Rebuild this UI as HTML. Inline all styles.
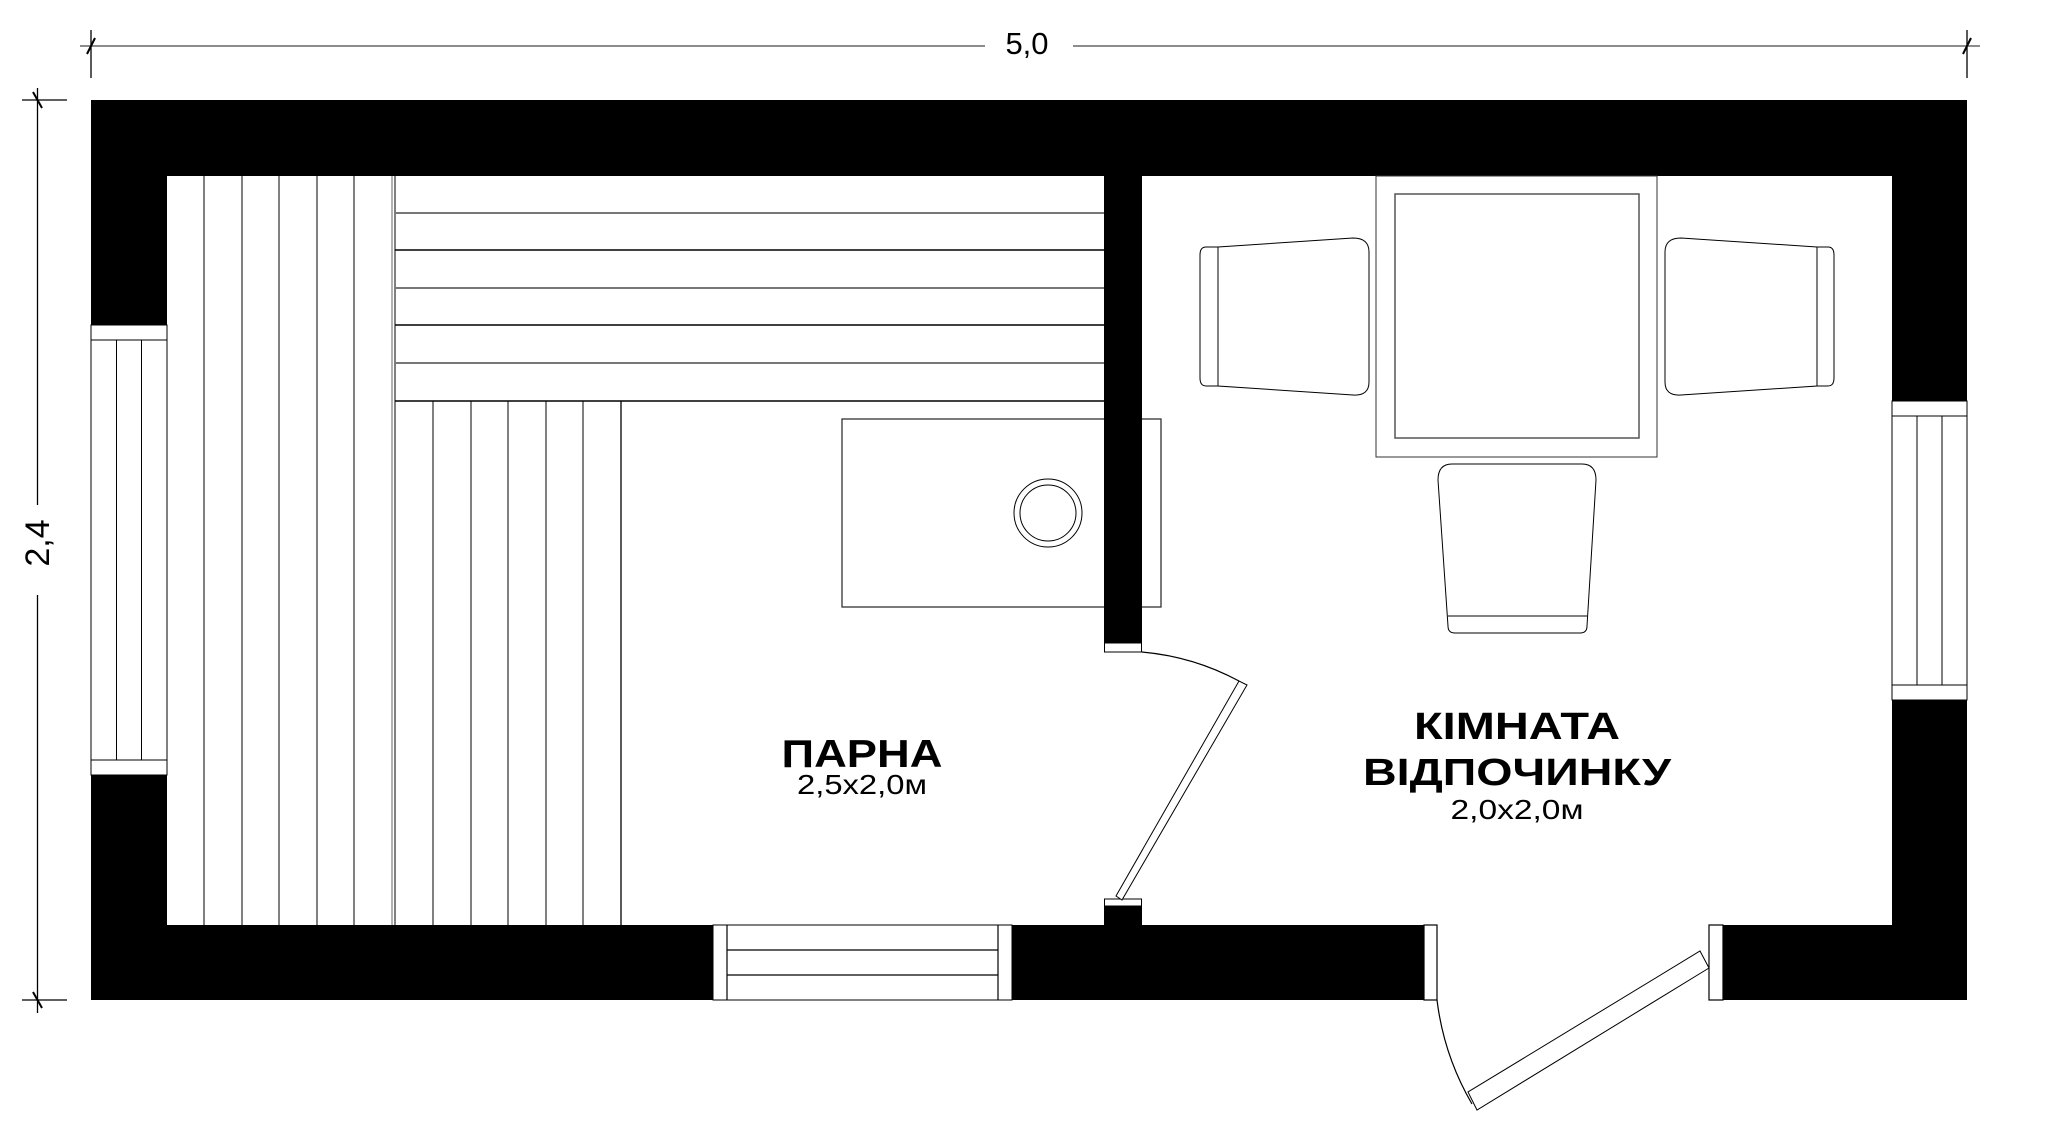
<!DOCTYPE html>
<html><head><meta charset="utf-8"><style>html,body{margin:0;padding:0;background:#fff}svg{display:block}</style></head>
<body>
<svg width="2064" height="1146" viewBox="0 0 2064 1146" xmlns="http://www.w3.org/2000/svg" font-family="Liberation Sans, sans-serif">
<rect width="2064" height="1146" fill="#fff"/>
<!-- dimensions -->
<g stroke="#000" stroke-width="1.3" fill="none">
<line x1="80" y1="46" x2="985" y2="46" stroke="#666" stroke-width="1.5"/>
<line x1="1073" y1="46" x2="1980" y2="46" stroke="#666" stroke-width="1.5"/>
<line x1="91" y1="30" x2="91" y2="78"/>
<line x1="1967" y1="30" x2="1967" y2="78"/>
<line x1="87" y1="54" x2="95" y2="38" stroke-width="2"/>
<line x1="1963" y1="54" x2="1971" y2="38" stroke-width="2"/>
<line x1="37.5" y1="88" x2="37.5" y2="505"/>
<line x1="37.5" y1="595" x2="37.5" y2="1013"/>
<line x1="22" y1="100" x2="67" y2="100"/>
<line x1="22" y1="1000" x2="67" y2="1000"/>
<line x1="33" y1="92" x2="42" y2="108" stroke-width="2"/>
<line x1="33" y1="992" x2="42" y2="1008" stroke-width="2"/>
</g>
<text x="1027" y="54" font-size="31" text-anchor="middle">5,0</text>
<text transform="translate(49,543) rotate(-90)" font-size="34" text-anchor="middle">2,4</text>

<!-- outer walls -->
<path fill="#000" fill-rule="evenodd" d="M91,100 H1967 V1000 H91 Z M167,176 H1892 V925 H167 Z"/>
<!-- left window -->
<rect x="91" y="325" width="76" height="450" fill="#fff" stroke="#000" stroke-width="1"/>
<g stroke="#000" stroke-width="1">
<line x1="91" y1="340" x2="167" y2="340"/><line x1="91" y1="760" x2="167" y2="760"/>
<line x1="116.5" y1="340" x2="116.5" y2="760"/><line x1="141.5" y1="340" x2="141.5" y2="760"/>
</g>
<!-- right window -->
<rect x="1892" y="401" width="75" height="299" fill="#fff" stroke="#000" stroke-width="1"/>
<g stroke="#000" stroke-width="1">
<line x1="1892" y1="416" x2="1967" y2="416"/><line x1="1892" y1="685" x2="1967" y2="685"/>
<line x1="1917" y1="416" x2="1917" y2="685"/><line x1="1942" y1="416" x2="1942" y2="685"/>
</g>
<!-- bottom window -->
<rect x="713" y="925" width="299" height="75" fill="#fff" stroke="#000" stroke-width="1"/>
<g stroke="#000" stroke-width="1.2">
<line x1="727" y1="925" x2="727" y2="1000"/><line x1="998" y1="925" x2="998" y2="1000"/>
<line x1="727" y1="950" x2="998" y2="950"/><line x1="727" y1="975" x2="998" y2="975"/>
</g>
<!-- entrance opening -->
<rect x="1424" y="924" width="299" height="78" fill="#fff"/>
<rect x="1424" y="925" width="13" height="75" fill="#fff" stroke="#000" stroke-width="1.2"/>
<rect x="1709" y="925" width="14" height="75" fill="#fff" stroke="#000" stroke-width="1.2"/>
<polygon points="1700,951 1709,968 1477,1110 1468,1092" fill="#fff" stroke="#000" stroke-width="1"/>
<path d="M1437,1000 A273,273 0 0 0 1472,1104" fill="none" stroke="#000" stroke-width="1.2"/>

<!-- bench boards -->
<g stroke="#000" stroke-width="1" fill="none">
<line x1="204" y1="176" x2="204" y2="925"/><line x1="242" y1="176" x2="242" y2="925"/>
<line x1="279" y1="176" x2="279" y2="925"/><line x1="317" y1="176" x2="317" y2="925"/>
<line x1="354" y1="176" x2="354" y2="925"/><line x1="392" y1="176" x2="392" y2="925" stroke="#666"/>
<line x1="395" y1="176" x2="395" y2="925"/>
<line x1="395" y1="213" x2="1104" y2="213" stroke="#777" stroke-width="2"/>
<line x1="395" y1="250" x2="1104" y2="250" stroke-width="1.5"/>
<line x1="395" y1="288" x2="1104" y2="288" stroke="#777" stroke-width="2"/>
<line x1="395" y1="325" x2="1104" y2="325" stroke-width="1.5"/>
<line x1="395" y1="363" x2="1104" y2="363" stroke="#777" stroke-width="2"/>
<line x1="395" y1="401" x2="1104" y2="401" stroke-width="1.5"/>
<line x1="433" y1="401" x2="433" y2="925"/><line x1="471" y1="401" x2="471" y2="925"/>
<line x1="508" y1="401" x2="508" y2="925"/><line x1="546" y1="401" x2="546" y2="925"/>
<line x1="583" y1="401" x2="583" y2="925"/><line x1="621" y1="401" x2="621" y2="925" stroke-width="1.3"/>
</g>
<!-- stove -->
<rect x="842" y="419" width="319" height="188" fill="#fff" stroke="#333" stroke-width="1.3"/>
<circle cx="1048" cy="513" r="34" fill="none" stroke="#000" stroke-width="1"/>
<circle cx="1048" cy="513" r="28" fill="none" stroke="#000" stroke-width="1"/>
<!-- partition -->
<rect x="1104" y="176" width="38" height="467" fill="#000"/>
<rect x="1104.5" y="643" width="37" height="9" fill="#fff" stroke="#000" stroke-width="1"/>
<rect x="1104" y="906" width="38" height="20" fill="#000"/>
<rect x="1104.5" y="899" width="37" height="7" fill="#fff" stroke="#000" stroke-width="1"/>
<polygon points="1116,896 1122,900 1247,685 1239,681" fill="#fff" stroke="#000" stroke-width="1"/>
<path d="M1142,652 A250,250 0 0 1 1239,681" fill="none" stroke="#000" stroke-width="1.2"/>

<!-- table -->
<rect x="1376" y="176" width="281" height="281" fill="#fff" stroke="#333" stroke-width="1"/>
<rect x="1395" y="194" width="244" height="244" fill="none" stroke="#555" stroke-width="1.5"/>
<!-- chairs -->
<g fill="#fff" stroke="#000" stroke-width="1">
<path d="M1206,247 H1218 V386 H1206 Q1200,386 1200,378 V255 Q1200,247 1206,247 Z"/>
<path d="M1218,247 L1353,238 Q1369,238 1369,252 V382 Q1369,396 1353,395 L1218,386 Z"/>
<path d="M1828,247 H1817 V386 H1828 Q1834,386 1834,378 V255 Q1834,247 1828,247 Z"/>
<path d="M1817,247 L1681,238 Q1665,238 1665,252 V382 Q1665,396 1681,395 L1817,386 Z"/>
<path d="M1452,464 H1582 Q1596,464 1596,480 L1587,626 Q1587,633 1580,633 H1455 Q1448,633 1448,626 L1438,480 Q1438,464 1452,464 Z"/>
<line x1="1448" y1="616" x2="1587" y2="616"/>
</g>

<!-- labels -->
<text x="862" y="767" font-size="39" font-weight="bold" text-anchor="middle" textLength="161" lengthAdjust="spacingAndGlyphs">ПАРНА</text>
<text x="862" y="794" font-size="28" text-anchor="middle" textLength="130" lengthAdjust="spacingAndGlyphs">2,5x2,0м</text>
<text x="1517" y="739" font-size="38" font-weight="bold" text-anchor="middle" textLength="206" lengthAdjust="spacingAndGlyphs">КІМНАТА</text>
<text x="1517" y="785" font-size="38" font-weight="bold" text-anchor="middle" textLength="308" lengthAdjust="spacingAndGlyphs">ВІДПОЧИНКУ</text>
<text x="1517" y="819" font-size="28" text-anchor="middle" textLength="133" lengthAdjust="spacingAndGlyphs">2,0x2,0м</text>
</svg>
</body></html>
